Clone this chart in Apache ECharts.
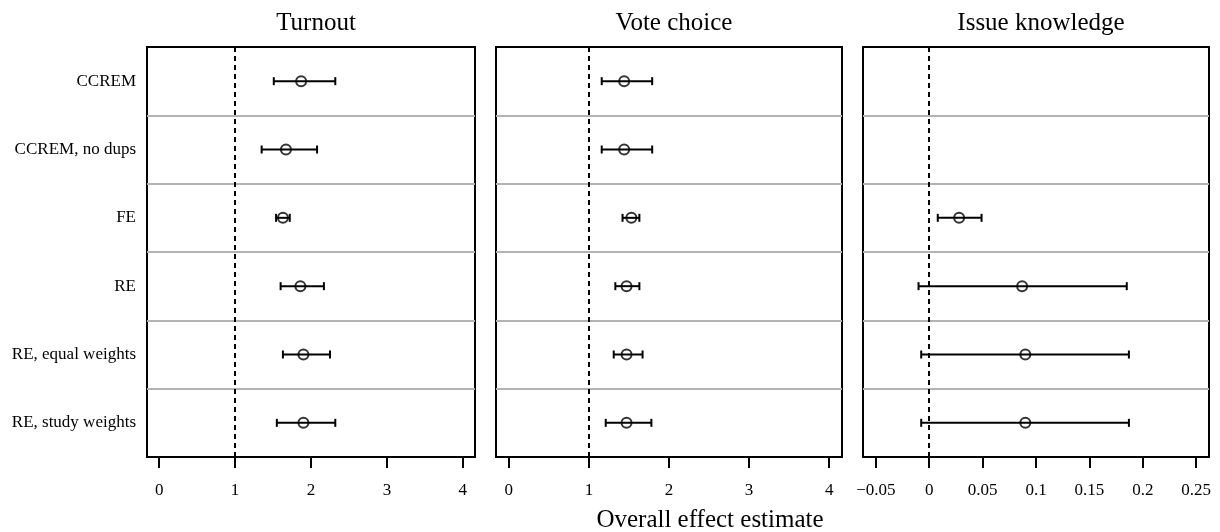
<!DOCTYPE html>
<html>
<head>
<meta charset="utf-8">
<script src="https://cdn.jsdelivr.net/npm/echarts@6/dist/echarts.min.js"></script>
<style>
  html, body { margin: 0; padding: 0; background: #fff; }
  #chart { width: 1220px; height: 532px; }
</style>
</head>
<body>
<div id="chart"></div>
<script>
// rows, top to bottom
var methods = ['CCREM', 'CCREM, no dups', 'FE', 'RE', 'RE, equal weights', 'RE, study weights'];

// Turnout
var turnoutEst = [1.87, 1.67, 1.63, 1.86, 1.90, 1.90];
var turnoutLo = [1.51, 1.35, 1.54, 1.60, 1.63, 1.55];
var turnoutHi = [2.32, 2.08, 1.72, 2.17, 2.25, 2.32];

// Vote choice
var voteEst = [1.44, 1.44, 1.53, 1.47, 1.47, 1.47];
var voteLo = [1.16, 1.16, 1.42, 1.33, 1.31, 1.21];
var voteHi = [1.79, 1.79, 1.63, 1.63, 1.67, 1.78];

// Issue knowledge (no CCREM estimates)
var knowEst = [null, null, 0.028, 0.087, 0.090, 0.090];
var knowLo = [null, null, 0.008, -0.010, -0.0075, -0.0075];
var knowHi = [null, null, 0.049, 0.185, 0.187, 0.187];

var panelTitles = ['Turnout', 'Vote choice', 'Issue knowledge'];
var countTicks = [0, 1, 2, 3, 4];
var countTickLabels = ['0', '1', '2', '3', '4'];
var knowTicks = [-0.05, 0, 0.05, 0.1, 0.15, 0.2, 0.25];
var knowTickLabels = ['\u22120.05', '0', '0.05', '0.1', '0.15', '0.2', '0.25'];
var refLines = [1, 1, 0];

var FONT = '"Liberation Serif", "Times New Roman", serif';

var mychart = echarts.init(document.getElementById('chart'));

// x ranges padded by 4% like base R plots
var panels = [
    {left: 147, width: 328, min: -0.16, max: 4.16, ticks: countTicks, labels: countTickLabels,
     est: turnoutEst, lo: turnoutLo, hi: turnoutHi},
    {left: 496, width: 346, min: -0.16, max: 4.16, ticks: countTicks, labels: countTickLabels,
     est: voteEst, lo: voteLo, hi: voteHi},
    {left: 863, width: 346, min: -0.062, max: 0.262, ticks: knowTicks, labels: knowTickLabels,
     est: knowEst, lo: knowLo, hi: knowHi}
];

function errorBar(params, api) {
    var a = api.coord([api.value(0), api.value(2)]);
    var b = api.coord([api.value(1), api.value(2)]);
    var h = 4;
    var style = {stroke: '#000', lineWidth: 2};
    return {
        type: 'group',
        children: [
            {type: 'line', shape: {x1: a[0], y1: a[1], x2: b[0], y2: b[1]}, style: style},
            {type: 'line', shape: {x1: a[0], y1: a[1] - h, x2: a[0], y2: a[1] + h}, style: style},
            {type: 'line', shape: {x1: b[0], y1: b[1] - h, x2: b[0], y2: b[1] + h}, style: style}
        ]
    };
}

var grids = [], xAxes = [], yAxes = [], series = [], titles = [];

panels.forEach(function (p, k) {
    grids.push({
        left: p.left, width: p.width, top: 47, height: 410,
        show: true, borderColor: '#000', borderWidth: 2, backgroundColor: 'transparent'
    });
    xAxes.push({
        type: 'value', gridIndex: k, min: p.min, max: p.max,
        axisLine: {show: true, lineStyle: {color: '#000', width: 2}},
        axisTick: {show: true, length: 11, customValues: p.ticks, lineStyle: {color: '#000', width: 2}},
        axisLabel: {
            show: true, customValues: p.ticks, margin: 25,
            color: '#000', fontSize: 17, fontFamily: FONT,
            formatter: function (v) {
                var i = p.ticks.findIndex(function (t) { return Math.abs(t - v) < 1e-9; });
                return i >= 0 ? p.labels[i] : '';
            }
        },
        splitLine: {show: false}
    });
    yAxes.push({
        type: 'category', gridIndex: k, data: methods, inverse: true,
        axisLine: {show: false},
        axisTick: {show: false},
        axisLabel: {show: k === 0, color: '#000', fontSize: 17, fontFamily: FONT, margin: 11},
        splitLine: {show: true, showMinLine: false, showMaxLine: false,
                    lineStyle: {color: '#b3b3b3', width: 2}}
    });

    var barData = [], ptData = [];
    for (var i = 0; i < methods.length; i++) {
        if (p.est[i] === null) continue;
        barData.push([p.lo[i], p.hi[i], i]);
        ptData.push([p.est[i], i]);
    }
    series.push({
        type: 'custom', xAxisIndex: k, yAxisIndex: k,
        renderItem: errorBar, encode: {x: [0, 1], y: 2}, data: barData, z: 3
    });
    series.push({
        type: 'scatter', xAxisIndex: k, yAxisIndex: k, data: ptData, z: 4,
        symbol: 'circle', symbolSize: 10,
        itemStyle: {color: 'transparent', borderColor: '#000', borderWidth: 2},
        markLine: {
            silent: true, symbol: 'none', label: {show: false},
            lineStyle: {color: '#000', width: 2, type: [5, 4]},
            data: [{xAxis: refLines[k]}]
        }
    });
    titles.push({
        text: panelTitles[k], left: p.left + p.width / 2, top: 6, textAlign: 'center',
        textStyle: {color: '#000', fontSize: 25, fontWeight: 'normal', fontFamily: FONT}
    });
});

titles.push({
    text: 'Overall effect estimate', left: 705, top: 503, textAlign: 'center',
    textStyle: {color: '#000', fontSize: 25, fontWeight: 'normal', fontFamily: FONT}
});

mychart.setOption({
    animation: false,
    title: titles,
    grid: grids,
    xAxis: xAxes,
    yAxis: yAxes,
    series: series
});
</script>
</body>
</html>
